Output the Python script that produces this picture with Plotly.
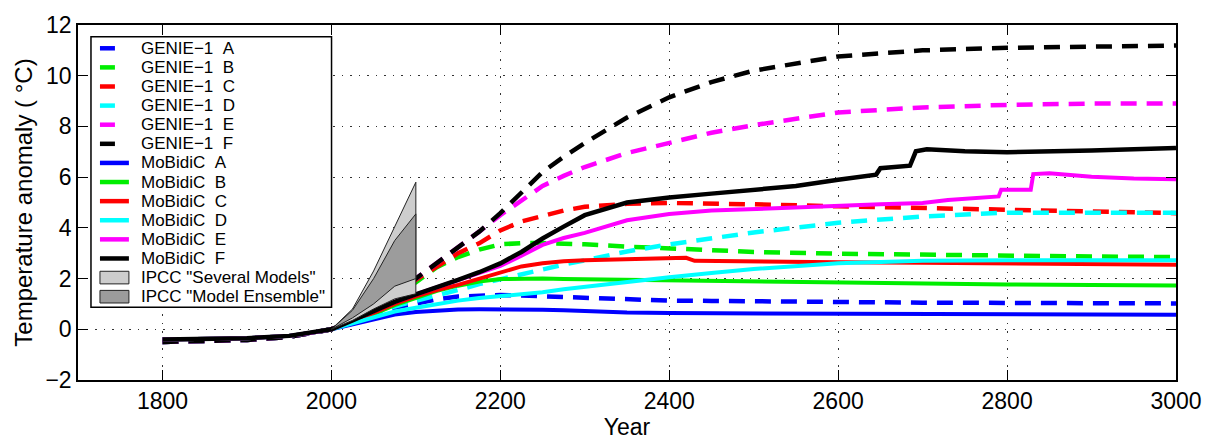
import plotly.graph_objects as go

# ---------------- data ----------------
YEARS = [1800, 1850, 1900, 1950, 1975, 2000, 2025, 2050, 2075, 2100, 2125, 2150, 2175,
         2200, 2225, 2250, 2275, 2300, 2350, 2400, 2450, 2500, 2600, 2700, 2800, 2900, 3000]

PRE_GENIE = [-0.5, -0.48, -0.42, -0.3, -0.17, 0.0]
PRE_MOB = [-0.4, -0.39, -0.35, -0.26, -0.15, 0.0]

genie_A = PRE_GENIE + [0.3, 0.6, 0.85, 1.02, 1.18, 1.29, 1.34, 1.35, 1.33, 1.3, 1.26, 1.22, 1.16, 1.13, 1.12, 1.1, 1.07, 1.05, 1.04, 1.03, 1.02]
genie_B = PRE_GENIE + [0.38, 0.85, 1.35, 1.85, 2.45, 2.85, 3.14, 3.35, 3.4, 3.4, 3.38, 3.35, 3.26, 3.18, 3.1, 3.05, 2.98, 2.93, 2.9, 2.87, 2.85]
genie_C = PRE_GENIE + [0.4, 0.88, 1.4, 1.95, 2.5, 3.0, 3.39, 3.9, 4.25, 4.47, 4.68, 4.83, 4.95, 4.98, 4.96, 4.93, 4.85, 4.78, 4.7, 4.63, 4.58]
genie_D = PRE_GENIE + [0.3, 0.6, 0.9, 1.12, 1.32, 1.55, 1.78, 1.98, 2.17, 2.37, 2.55, 2.72, 3.07, 3.35, 3.6, 3.82, 4.2, 4.45, 4.6, 4.62, 4.6]
genie_E = PRE_GENIE + [0.4, 0.9, 1.45, 2.0, 2.6, 3.2, 3.85, 4.5, 5.1, 5.65, 6.05, 6.4, 6.95, 7.35, 7.75, 8.05, 8.55, 8.75, 8.85, 8.9, 8.9]
genie_F = PRE_GENIE + [0.4, 0.9, 1.45, 2.0, 2.6, 3.2, 3.85, 4.58, 5.4, 6.2, 6.8, 7.35, 8.35, 9.15, 9.75, 10.2, 10.76, 11.0, 11.1, 11.15, 11.19]

mob_A = PRE_MOB + [0.2, 0.4, 0.58, 0.68, 0.74, 0.78, 0.79, 0.79, 0.78, 0.77, 0.75, 0.72, 0.66, 0.64, 0.63, 0.62, 0.6, 0.59, 0.58, 0.58, 0.57]
mob_B = PRE_MOB + [0.3, 0.6, 0.95, 1.25, 1.52, 1.72, 1.88, 1.98, 2.0, 2.0, 1.98, 1.97, 1.92, 1.9, 1.88, 1.86, 1.82, 1.79, 1.77, 1.75, 1.73]
mob_D = PRE_MOB + [0.22, 0.45, 0.7, 0.85, 1.0, 1.13, 1.23, 1.3, 1.38, 1.46, 1.58, 1.68, 1.87, 2.05, 2.22, 2.38, 2.6, 2.7, 2.72, 2.72, 2.72]

YEARS_MOB_C = [1800, 1850, 1900, 1950, 1975, 2000, 2025, 2050, 2075, 2100, 2125, 2150, 2175, 2200,
               2225, 2250, 2275, 2300, 2350, 2400, 2420, 2430, 2500, 2600, 2700, 2800, 2900, 3000]
mob_C = PRE_MOB + [0.3, 0.65, 1.0, 1.3, 1.55, 1.75, 1.98, 2.25, 2.48, 2.6, 2.68, 2.72, 2.76, 2.8, 2.82, 2.7, 2.66, 2.64, 2.62, 2.6, 2.57, 2.55]

YEARS_MOB_E = [1800, 1850, 1900, 1950, 1975, 2000, 2025, 2050, 2075, 2100, 2125, 2150, 2175, 2200,
               2225, 2250, 2275, 2300, 2350, 2400, 2450, 2500, 2550, 2600, 2650, 2700, 2730, 2790,
               2793, 2828, 2831, 2850, 2900, 2950, 3000]
mob_E = PRE_MOB + [0.35, 0.7, 1.08, 1.38, 1.65, 1.93, 2.2, 2.5, 2.9, 3.33, 3.6, 3.8, 4.3, 4.55, 4.68, 4.75,
                   4.8, 4.88, 4.93, 4.98, 5.1, 5.24, 5.5, 5.5, 6.12, 6.15, 6.02, 5.95, 5.92]

YEARS_MOB_F = [1800, 1850, 1900, 1950, 1975, 2000, 2025, 2050, 2075, 2100, 2125, 2150, 2175, 2200,
               2225, 2250, 2275, 2300, 2350, 2400, 2450, 2500, 2550, 2600, 2645, 2650, 2685, 2692,
               2705, 2750, 2800, 2900, 3000]
mob_F = PRE_MOB + [0.35, 0.7, 1.08, 1.38, 1.65, 1.95, 2.25, 2.6, 3.05, 3.58, 4.05, 4.5, 5.0, 5.2, 5.35, 5.5,
                   5.65, 5.9, 6.1, 6.35, 6.45, 7.02, 7.1, 7.02, 6.98, 7.05, 7.15]

IPCC_YEARS = [2000, 2025, 2050, 2075, 2100]
several_high = [0.0, 0.8, 2.3, 4.05, 5.8]
several_low = [0.0, 0.35, 0.8, 1.2, 1.4]
ensemble_high = [0.0, 0.75, 2.0, 3.5, 4.55]
ensemble_low = [0.0, 0.45, 1.0, 1.7, 2.0]

X_TICKS = [1800, 2000, 2200, 2400, 2600, 2800, 3000]
Y_TICKS = [-2, 0, 2, 4, 6, 8, 10, 12]

LABELS = ["GENIE\u22121\u00a0\u00a0A", "GENIE\u22121\u00a0\u00a0B", "GENIE\u22121\u00a0\u00a0C",
          "GENIE\u22121\u00a0\u00a0D", "GENIE\u22121\u00a0\u00a0E", "GENIE\u22121\u00a0\u00a0F",
          "MoBidiC\u00a0\u00a0A", "MoBidiC\u00a0\u00a0B", "MoBidiC\u00a0\u00a0C",
          "MoBidiC\u00a0\u00a0D", "MoBidiC\u00a0\u00a0E", "MoBidiC\u00a0\u00a0F",
          'IPCC "Several Models"', 'IPCC "Model Ensemble"']

# ---------------- styling ----------------
COLORS = ["#0000ff", "#00ee00", "#ff0000", "#00ffff", "#ff00ff", "#000000"]
LIGHT = "#cdcdcd"
DARK = "#9c9c9c"
FONT = "Liberation Sans, Arial, Helvetica, sans-serif"

fig = go.Figure()

genie = [genie_A, genie_B, genie_C, genie_D, genie_E, genie_F]
for i, vals in enumerate(genie):
    fig.add_trace(go.Scatter(x=YEARS, y=vals, mode="lines", name=LABELS[i], showlegend=False,
                             line=dict(color=COLORS[i], width=4.5, dash="16px,10px")))

mob = [(YEARS, mob_A), (YEARS, mob_B), (YEARS_MOB_C, mob_C), (YEARS, mob_D),
       (YEARS_MOB_E, mob_E), (YEARS_MOB_F, mob_F)]
for i, (yrs, vals) in enumerate(mob):
    fig.add_trace(go.Scatter(x=yrs, y=vals, mode="lines", name=LABELS[6 + i], showlegend=False,
                             line=dict(color=COLORS[i], width=4 if i < 5 else 4.5)))

fig.add_trace(go.Scatter(x=IPCC_YEARS + IPCC_YEARS[::-1], y=several_high + several_low[::-1],
                         fill="toself", fillcolor=LIGHT, mode="lines", name=LABELS[12],
                         showlegend=False, line=dict(color="#222222", width=1)))
fig.add_trace(go.Scatter(x=IPCC_YEARS + IPCC_YEARS[::-1], y=ensemble_high + ensemble_low[::-1],
                         fill="toself", fillcolor=DARK, mode="lines", name=LABELS[13],
                         showlegend=False, line=dict(color="#222222", width=1)))

# ---------------- manual legend (MATLAB-style compact box) ----------------
L, R, T, B = 78, 1178, 18, 384
W, H = R - L, B - T


def px(x):
    return (x - L) / W


def py(y):
    return (B - y) / H


shapes = []
annotations = []
shapes.append(dict(type="rect", xref="paper", yref="paper", x0=px(91), x1=px(332), y0=py(30), y1=py(309),
                   line=dict(color="black", width=1.5), fillcolor="white", layer="above"))
for i, lab in enumerate(LABELS):
    yc = 42 + i * 19.7
    if i < 6:
        shapes.append(dict(type="line", xref="paper", yref="paper", x0=px(100), x1=px(115),
                           y0=py(yc), y1=py(yc), line=dict(color=COLORS[i], width=4.5), layer="above"))
    elif i < 12:
        shapes.append(dict(type="line", xref="paper", yref="paper", x0=px(100), x1=px(129),
                           y0=py(yc), y1=py(yc), line=dict(color=COLORS[i - 6], width=4.5), layer="above"))
    else:
        shapes.append(dict(type="rect", xref="paper", yref="paper", x0=px(100), x1=px(129),
                           y0=py(yc + 6.5), y1=py(yc - 6.5), fillcolor=LIGHT if i == 12 else DARK,
                           line=dict(color="#222222", width=1), layer="above"))
    annotations.append(dict(xref="paper", yref="paper", x=px(139), y=py(yc), text=lab, showarrow=False,
                            xanchor="left", yanchor="middle", font=dict(size=17, color="black", family=FONT)))

fig.update_layout(
    width=1214, height=446,
    margin=dict(l=L, r=1214 - R, t=T, b=446 - B),
    paper_bgcolor="white", plot_bgcolor="white",
    font=dict(family=FONT, color="black"),
    showlegend=False,
    shapes=shapes, annotations=annotations,
    xaxis=dict(range=[1700, 3000], tickvals=X_TICKS, ticks="inside", ticklen=10, tickwidth=1,
               tickcolor="black", showline=True, linecolor="black", linewidth=1.5, mirror="ticks",
               showgrid=True, gridcolor="#333333", gridwidth=1, griddash="1.5px,7px", zeroline=False,
               tickfont=dict(size=23), title=dict(text="Year", font=dict(size=23), standoff=4)),
    yaxis=dict(range=[-2, 12], tickvals=Y_TICKS, ticks="inside", ticklen=10, tickwidth=1,
               tickcolor="black", showline=True, linecolor="black", linewidth=1.5, mirror="ticks",
               showgrid=True, gridcolor="#333333", gridwidth=1, griddash="1.5px,7px", zeroline=False,
               tickfont=dict(size=23),
               title=dict(text="Temperature anomaly ( \u00b0C)", font=dict(size=24), standoff=6)),
)

fig.write_html("out.html")
